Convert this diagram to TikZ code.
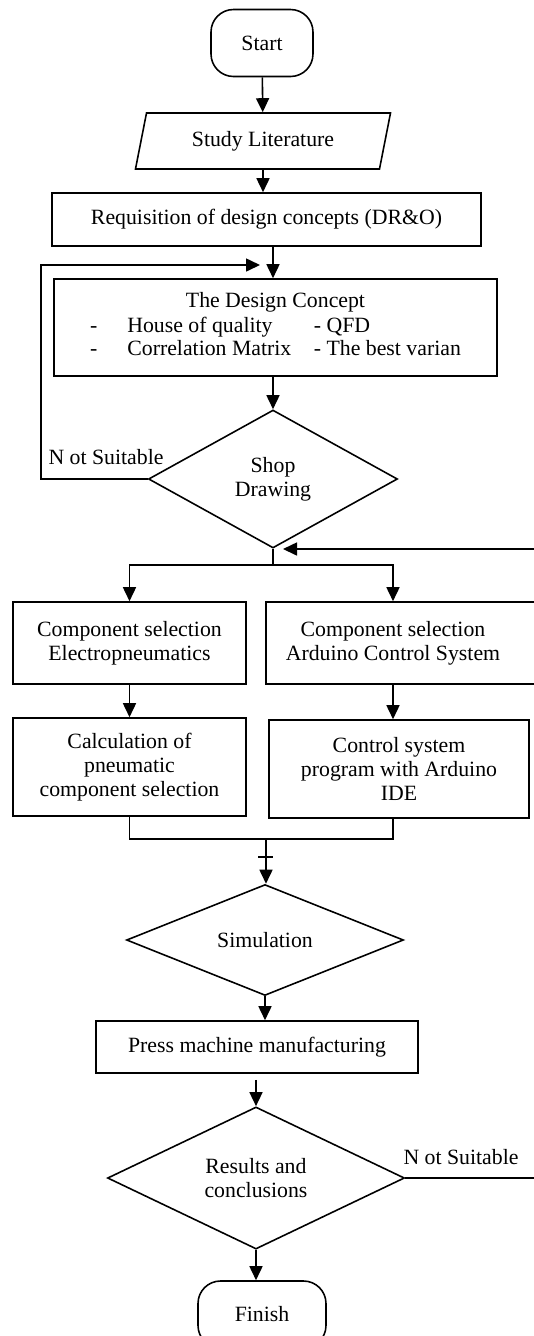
\documentclass[tikz,border=0pt]{standalone}
\usepackage{fontspec}
\setmainfont{Liberation Serif}
\usetikzlibrary{positioning,arrows.meta,shapes.geometric,calc}
\tikzset{
  flowarrow/.style={-{Triangle[length=2.8mm,width=2.6mm]}, line width=0.9pt},
  flowline/.style={line width=0.9pt},
  termnode/.style={draw, line width=0.9pt, rounded corners=0.45cm, minimum width=2.04cm, minimum height=1.34cm, align=center},
  ionode/.style={draw, line width=0.9pt, trapezium, trapezium left angle=77, trapezium right angle=103, trapezium stretches=true, minimum width=5.12cm, minimum height=1.12cm},
  procnode/.style={draw, line width=0.9pt, align=center},
  decnode/.style={draw, line width=0.9pt, diamond, align=center, inner sep=0pt},
  notelabel/.style={inner sep=1pt}
}

\begin{document}
\begin{tikzpicture}[every node/.style={font=\fontsize{12.4}{13.6}\selectfont}]
  \useasboundingbox (0,0) rectangle (10.68,-26.72);
  \clip (0,0) rectangle (10.68,-26.72);
  \node[termnode] (start) at (5.24,-0.86) {Start};
  \node[ionode] (study) at (5.26,-2.82) {Study Literature};
  \node[procnode, minimum width=8.58cm, minimum height=1.06cm] (req) at (5.33,-4.39) {Requisition of design concepts (DR\&O)};
  \node[procnode, minimum width=8.86cm, minimum height=1.94cm] (concept) at (5.51,-6.55) {The Design Concept\\[1pt]
    \begin{tabular}{@{}l@{\hspace{0.6cm}}l@{\hspace{0.45cm}}l@{}}
      - & House of quality & - QFD\\
      - & Correlation Matrix & - The best varian
    \end{tabular}};
  \node[decnode, minimum width=4.98cm, minimum height=2.76cm] (shop) at (5.46,-9.58) {Shop\\Drawing};
  \node[notelabel] (ns1) at (2.12,-9.14) {N ot Suitable};
  \node[procnode, minimum width=4.66cm, minimum height=1.64cm] (cs1) at (2.59,-12.86) {Component selection\\Electropneumatics};
  \node[procnode, minimum width=5.6cm, minimum height=1.64cm, anchor=west] (cs2box) at (5.30,-12.86) {};
  \node[align=center] (cs2) at (7.86,-12.86) {Component selection\\Arduino Control System};
  \node[procnode, minimum width=4.66cm, minimum height=1.96cm] (calc) at (2.59,-15.34) {Calculation of\\pneumatic\\component selection};
  \node[procnode, minimum width=5.20cm, minimum height=1.96cm] (ctrl) at (7.98,-15.38) {Control system\\program with Arduino\\IDE};
  \node[decnode, minimum width=5.54cm, minimum height=1.88cm] (sim) at (5.30,-18.80) {Simulation};
  \node[procnode, minimum width=6.44cm, minimum height=1.04cm] (press) at (5.14,-20.94) {Press machine manufacturing};
  \node[decnode, minimum width=5.94cm, minimum height=2.76cm] (res) at (5.12,-23.56) {Results and\\conclusions};
  \node[notelabel] (ns2) at (9.22,-23.14) {N ot Suitable};
  \node[termnode, minimum width=2.56cm] (finish) at (5.24,-26.29) {Finish};

  % main line down to the design concept
  \draw[flowarrow] (start) -- (study);
  \draw[flowarrow] (study.south) -- (study.south |- req.north);
  \draw[flowarrow] (req.south -| shop) -- (concept.north -| shop);
  \draw[flowarrow] (concept.south -| shop) -- (shop.north);

  % not suitable: back to the design concept
  \coordinate (looptop) at (0.82,-5.30);
  \coordinate (loopin) at (5.20,-5.30);
  \draw[flowarrow] (shop.west) -| (looptop) -- (loopin);

  % split into the two branches
  \coordinate (split) at (5.46,-11.30);
  \draw[flowline] (shop.south) -- (split);
  \draw[flowarrow] (split) -| (cs1.north);
  \draw[flowarrow] (split) -| (cs2 |- cs2box.north);
  \draw[flowarrow] (cs1) -- (calc);
  \draw[flowarrow] (cs2 |- cs2box.south) -- (cs2 |- ctrl.north);

  % branches join again
  \coordinate (join) at (5.32,-16.78);
  \coordinate (tick) at (5.32,-17.14);
  \draw[flowline] (calc.south) |- (join) -| (cs2 |- ctrl.south);
  \draw[flowline] ([xshift=-0.16cm]tick) -- ([xshift=0.14cm]tick);
  \draw[flowarrow] (join) -- (join |- sim.north);
  \draw[flowarrow] (sim.south) -- (sim.south |- press.north);
  \draw[flowarrow, shorten <=0.12cm] (press.south -| res) -- (res.north);
  \draw[flowarrow] (res.south) -- (res.south |- finish.north);

  % not suitable: back to the branches
  \coordinate (loopright) at (10.90,-10.98);
  \coordinate (backin) at (5.66,-10.98);
  \draw[flowarrow] (res.east) -| (loopright) -- (backin);
\end{tikzpicture}
\end{document}
